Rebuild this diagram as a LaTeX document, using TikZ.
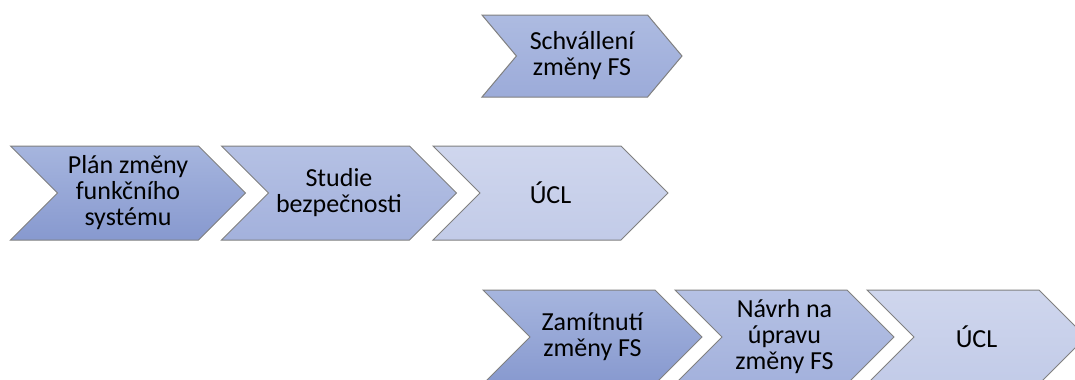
\documentclass[tikz,border=0pt]{standalone}
\usepackage{fontspec}
\setmainfont{Carlito}
\usetikzlibrary{shapes.symbols}

\definecolor{stepAtop}{HTML}{A6B5DE}
\definecolor{stepAbot}{HTML}{8799CF}
\definecolor{stepBtop}{HTML}{B5C1E4}
\definecolor{stepBbot}{HTML}{A3B1DC}
\definecolor{stepCtop}{HTML}{CFD6ED}
\definecolor{stepCbot}{HTML}{C2CBE8}
\definecolor{stepDtop}{HTML}{ADBBE1}
\definecolor{stepDbot}{HTML}{9CABD9}

\begin{document}
\begin{tikzpicture}[
    x=0.75pt, y=-0.75pt,
    chevron/.style={signal, signal from=west, signal to=east, signal pointer angle=90, draw=black!50, line width=0.75pt, minimum height=70.5pt, minimum width=176.25pt, inner sep=0pt, font=\fontsize{19.5}{19.5}\selectfont, align=center, text=black},
    shortchev/.style={chevron, minimum width=164.25pt},
    topchev/.style={chevron, minimum width=150pt, minimum height=61.5pt, signal pointer angle=100},
    shadeA/.style={top color=stepAtop, bottom color=stepAbot},
    shadeB/.style={top color=stepBtop, bottom color=stepBbot},
    shadeC/.style={top color=stepCtop, bottom color=stepCbot},
    shadeD/.style={top color=stepDtop, bottom color=stepDbot}
]
\useasboundingbox (0,0) rectangle (1075,379);
\clip (0,0) rectangle (1075,379);

% approval
\node[topchev, shadeD] (approve) at (582, 56) {Schvállení\\změny FS};

% main process
\node[chevron, shadeA] (plan) at (128, 193) {Plán změny\\funkčního\\systému};
\node[chevron, shadeB] (study) at (339, 193) {Studie\\bezpečnosti};
\node[chevron, shadeC] (ucl) at (550.5, 193) {ÚCL};

% rejection
\node[shortchev, shadeA] (reject) at (592.5, 337) {Zamítnutí\\změny FS};
\node[shortchev, shadeB] (revise) at (784.5, 337) {Návrh na\\úpravu\\změny FS};
\node[shortchev, shadeC] (ucl2) at (976.5, 337) {ÚCL};

\end{tikzpicture}
\end{document}
